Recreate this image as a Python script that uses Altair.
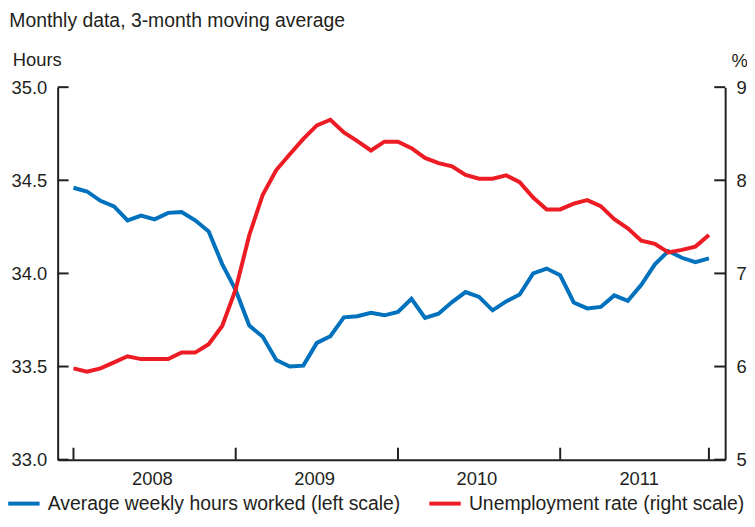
import altair as alt
import pandas as pd

# ---- data ----
month_index = list(range(48))  # Jan 2008 .. Dec 2011
hours = [34.46, 34.44, 34.39, 34.36, 34.285, 34.31, 34.29, 34.325, 34.33, 34.285, 34.225, 34.05,
         33.91, 33.72, 33.66, 33.535, 33.50, 33.505, 33.627, 33.663, 33.764, 33.77, 33.788, 33.775,
         33.793, 33.864, 33.761, 33.784, 33.846, 33.90, 33.874, 33.802, 33.85, 33.887, 34.0, 34.026,
         33.99, 33.844, 33.812, 33.82, 33.882, 33.853, 33.939, 34.049, 34.12, 34.084, 34.061, 34.081]
unemployment = [5.98, 5.945, 5.98, 6.045, 6.11, 6.08, 6.08, 6.08, 6.15, 6.15, 6.24, 6.435,
                6.83, 7.41, 7.845, 8.11, 8.28, 8.445, 8.59, 8.65, 8.515, 8.42, 8.32, 8.415,
                8.415, 8.345, 8.24, 8.185, 8.15, 8.057, 8.017, 8.017, 8.053, 7.98, 7.815, 7.687,
                7.687, 7.75, 7.787, 7.722, 7.583, 7.485, 7.352, 7.317, 7.225, 7.253, 7.288, 7.413]
series_names = ["Average weekly hours worked (left scale)", "Unemployment rate (right scale)"]
series_colors = ["#0071bc", "#ed1c24"]
left_ticks = [33.0, 33.5, 34.0, 34.5, 35.0]
right_ticks = [5, 6, 7, 8, 9]
first_year = 2008
year_tick_months = [0, 12, 24, 36, 47]          # tick marks on the time axis
year_label_months = [5.8, 17.8, 29.8, 41.8]     # where the year labels sit
title_text = "Monthly data, 3-month moving average"

W, H = 672, 375
FONT = "Liberation Sans"
TEXT = "#231f20"
TICK_FS = 18.5
BIG_FS = 19.5

df_h = pd.DataFrame({"m": month_index, "v": hours, "series": series_names[0]})
df_u = pd.DataFrame({"m": month_index, "v": unemployment, "series": series_names[1]})

x_scale = alt.Scale(domain=[-1.17, 48.2], nice=False, zero=False)
yl_scale = alt.Scale(domain=[33, 35], nice=False, zero=False)
yr_scale = alt.Scale(domain=[5, 9], nice=False, zero=False)

legend = alt.Legend(
    title=None, orient="none", legendX=-52, legendY=401, direction="horizontal",
    symbolType="stroke", symbolSize=1000, symbolStrokeWidth=4,
    labelFont=FONT, labelColor=TEXT, labelFontSize=BIG_FS, labelLimit=600, labelOffset=6,
    columnPadding=20, padding=0,
)
color = alt.Color("series:N", scale=alt.Scale(domain=series_names, range=series_colors), legend=legend)

axis_style = dict(grid=False, ticks=False, domain=True, domainColor=TEXT, domainWidth=2,
                  labelFont=FONT, labelFontSize=TICK_FS, labelColor=TEXT, labelFlush=False,
                  titleFont=FONT, titleFontSize=TICK_FS, titleColor=TEXT, titleFontWeight="normal")

# the same x axis object is given to every layer so that the shared axis merges cleanly
x_axis = alt.Axis(orient="bottom", values=year_label_months,
                  labelExpr=f"'' + ({first_year} + floor(datum.value / 12))",
                  labelPadding=10, title="", labelOverlap=False, **axis_style)
left_axis = alt.Axis(orient="left", values=left_ticks, format=".1f", labelPadding=11, title="Hours",
                     titleAngle=0, titleAlign="left", titleBaseline="alphabetic", titleX=-45.7, titleY=-22,
                     **axis_style)
right_axis = alt.Axis(orient="right", values=right_ticks, format="d", labelPadding=11, title="%",
                      titleAngle=0, titleAlign="left", titleBaseline="alphabetic", titleX=6, titleY=-21,
                      **axis_style)

hours_line = alt.Chart(df_h).mark_line(strokeWidth=4).encode(
    x=alt.X("m:Q", scale=x_scale, axis=x_axis, title=""),
    y=alt.Y("v:Q", scale=yl_scale, axis=left_axis),
    color=color,
)
unemp_line = alt.Chart(df_u).mark_line(strokeWidth=4).encode(
    x=alt.X("m:Q", scale=x_scale, axis=x_axis, title=""),
    y=alt.Y("v:Q", scale=yr_scale, axis=right_axis),
    color=color,
)
# inward-pointing tick marks
left_tick_marks = alt.Chart(pd.DataFrame({"k": left_ticks})).mark_rule(color=TEXT, strokeWidth=2).encode(
    y=alt.Y("k:Q", scale=yl_scale, axis=None),
    x=alt.value(0), x2=alt.value(11),
)
right_tick_marks = alt.Chart(pd.DataFrame({"k": right_ticks})).mark_rule(color=TEXT, strokeWidth=2).encode(
    y=alt.Y("k:Q", scale=yr_scale, axis=None),
    x=alt.value(W - 11), x2=alt.value(W),
)
x_tick_marks = alt.Chart(pd.DataFrame({"m": year_tick_months})).mark_rule(
    color=TEXT, strokeWidth=2).encode(
    x=alt.X("m:Q", scale=x_scale, axis=x_axis, title=""),
    y=alt.value(H), y2=alt.value(H - 12),
)

chart = alt.layer(
    hours_line, unemp_line, left_tick_marks, right_tick_marks, x_tick_marks
).resolve_scale(y="independent").properties(
    width=W, height=H,
    autosize=alt.AutoSizeParams(type="none"),
    padding={"left": 50, "top": 78, "right": 22, "bottom": 54},
    title=alt.Title(title_text, anchor="start", frame="group", dx=-48.7, font=FONT,
                    fontSize=BIG_FS, fontWeight="normal", color=TEXT, offset=19),
).configure_view(stroke=None)

chart.save("out.html", embed_options={"renderer": "svg", "actions": False})
